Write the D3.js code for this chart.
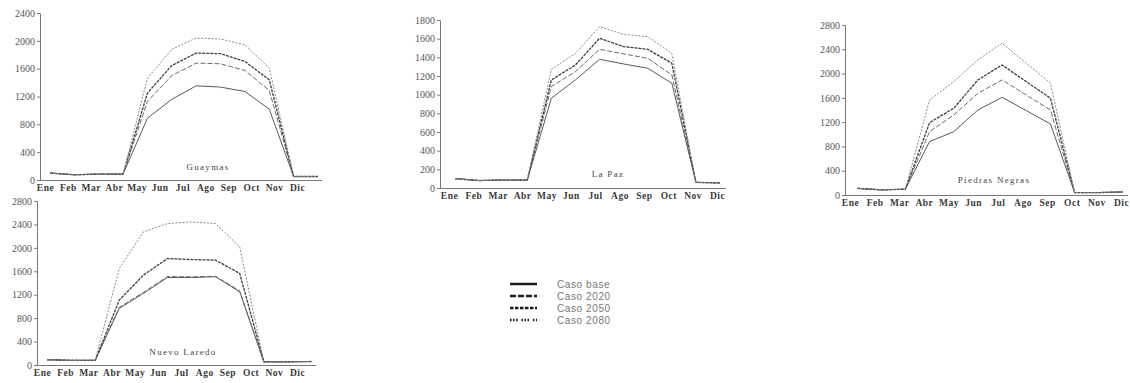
<!DOCTYPE html>
<html>
<head>
<meta charset="utf-8">
<script src="https://cdn.jsdelivr.net/npm/d3@7"></script>
<style>
  body { margin: 0; background: #fff; }
  svg { display: block; }
  .axis path, .axis line { stroke: #777; }
</style>
</head>
<body>
<div id="chart"></div>
<script>
var months = ['Ene', 'Feb', 'Mar', 'Abr', 'May', 'Jun', 'Jul', 'Ago', 'Sep', 'Oct', 'Nov', 'Dic'];
var cases = ['Caso base', 'Caso 2020', 'Caso 2050', 'Caso 2080'];

var guaymasBase = [100, 75, 85, 85, 888, 1160, 1354, 1335, 1272, 1018, 50, 50];
var guaymas2020 = [100, 75, 85, 85, 1130, 1500, 1680, 1670, 1575, 1287, 50, 50];
var guaymas2050 = [100, 75, 85, 85, 1250, 1645, 1824, 1815, 1704, 1440, 50, 50];
var guaymas2080 = [100, 75, 85, 85, 1464, 1878, 2040, 2026, 1944, 1608, 50, 50];

var laPazBase = [100, 80, 85, 85, 962, 1158, 1379, 1329, 1283, 1123, 60, 55];
var laPaz2020 = [100, 80, 85, 85, 1087, 1247, 1486, 1436, 1390, 1212, 60, 55];
var laPaz2050 = [100, 80, 85, 85, 1158, 1318, 1604, 1515, 1486, 1336, 60, 55];
var laPaz2080 = [100, 80, 85, 85, 1272, 1443, 1728, 1646, 1621, 1443, 60, 55];

var piedrasBase = [110, 85, 95, 879, 1043, 1400, 1609, 1390, 1170, 40, 40, 50];
var piedras2020 = [110, 85, 95, 1043, 1318, 1675, 1895, 1647, 1400, 40, 40, 50];
var piedras2050 = [110, 85, 95, 1192, 1428, 1895, 2142, 1867, 1593, 40, 40, 50];
var piedras2080 = [110, 85, 95, 1565, 1867, 2224, 2499, 2170, 1840, 40, 40, 50];

var laredoBase = [90, 80, 80, 966, 1222, 1494, 1494, 1506, 1250, 55, 55, 60];
var laredo2020 = [90, 80, 80, 985, 1240, 1510, 1505, 1515, 1265, 55, 55, 60];
var laredo2050 = [90, 80, 80, 1108, 1534, 1818, 1800, 1790, 1563, 55, 55, 60];
var laredo2080 = [90, 80, 80, 1648, 2273, 2415, 2443, 2415, 2017, 55, 55, 60];

var cities = ['Guaymas', 'La Paz', 'Piedras Negras', 'Nuevo Laredo'];
var yMax = [2400, 1800, 2800, 2800];
var yStep = [400, 200, 400, 400];
var cityData = [
  [guaymasBase, guaymas2020, guaymas2050, guaymas2080],
  [laPazBase, laPaz2020, laPaz2050, laPaz2080],
  [piedrasBase, piedras2020, piedras2050, piedras2080],
  [laredoBase, laredo2020, laredo2050, laredo2080]
];

// panel placement (pixels)
var panels = [
  { ax: 40,  top: 13,  bottom: 180, line: [50, 318],   lab: [45, 297],   end: 322,  tx: 208, ty: 170 },
  { ax: 440, top: 20,  bottom: 188, line: [455, 720],  lab: [449, 717],  end: 726,  tx: 608, ty: 177 },
  { ax: 845, top: 25,  bottom: 195, line: [857, 1123], lab: [850, 1121], end: 1128, tx: 994, ty: 183 },
  { ax: 37,  top: 201, bottom: 365, line: [47, 312],   lab: [42, 297],   end: 316,  tx: 183, ty: 355 }
];

var styles = [
  { stroke: '#5a5a5a', width: 1,   dash: null },
  { stroke: '#6a6a6a', width: 1,   dash: '5,2' },
  { stroke: '#3e3e3e', width: 1.3, dash: '3,1' },
  { stroke: '#8a8a8a', width: 1,   dash: '2,1.5' }
];
var legendDash = [null, '6,2', '3.5,1.5', '1.5,1.5,1.5,1.5,1.5,4'];

var serif = "'Liberation Serif', 'DejaVu Serif', serif";

var svg = d3.select('#chart').append('svg')
    .attr('width', 1130)
    .attr('height', 383);

panels.forEach(function (p, i) {

  var y = d3.scaleLinear()
      .domain([0, yMax[i]])
      .range([p.bottom, p.top]);

  var x = d3.scalePoint()
      .domain(months)
      .range(p.line);

  var xLab = d3.scalePoint()
      .domain(months)
      .range(p.lab);

  var g = svg.append('g');

  // y axis
  g.append('g')
      .attr('class', 'axis')
      .attr('transform', 'translate(' + p.ax + ',0)')
      .call(d3.axisLeft(y)
        .tickValues(d3.range(0, yMax[i] + 1, yStep[i]))
        .tickFormat(d3.format('d'))
        .tickSize(3)
        .tickSizeOuter(0)
        .tickPadding(2))
      .selectAll('text')
        .style('font-family', serif)
        .style('font-size', '10px')
        .style('fill', '#555');

  // x axis line
  g.append('line')
      .attr('x1', p.ax)
      .attr('x2', p.end)
      .attr('y1', y(0) + 0.5)
      .attr('y2', y(0) + 0.5)
      .attr('stroke', '#777');

  // month labels
  var xa = g.append('g')
      .attr('class', 'axis')
      .attr('transform', 'translate(0,' + (y(0) + 1) + ')')
      .call(d3.axisBottom(xLab).tickSize(0).tickPadding(3));
  xa.select('.domain').remove();
  xa.selectAll('text')
      .style('font-family', serif)
      .style('font-size', '9.5px')
      .style('letter-spacing', '0.5px')
      .style('font-weight', 'bold')
      .style('fill', '#3a3a3a');

  var line = d3.line()
      .x(function (d, j) { return x(months[j]); })
      .y(function (d) { return y(d); });

  g.selectAll('path.serie')
      .data(cityData[i])
      .enter()
    .append('path')
      .attr('class', 'serie')
      .attr('d', line)
      .attr('fill', 'none')
      .attr('stroke', function (d, k) { return styles[k].stroke; })
      .attr('stroke-width', function (d, k) { return styles[k].width; })
      .attr('stroke-dasharray', function (d, k) { return styles[k].dash; });

  g.append('text')
      .attr('x', p.tx)
      .attr('y', p.ty)
      .attr('text-anchor', 'middle')
      .style('font-family', serif)
      .style('font-size', '9px')
      .style('letter-spacing', '1.3px')
      .style('fill', '#444')
      .text(cities[i]);
});

// legend
var legend = svg.append('g')
    .attr('transform', 'translate(510,284)');

var item = legend.selectAll('g')
    .data(cases)
    .enter()
  .append('g')
    .attr('transform', function (d, i) { return 'translate(0,' + (i * 12) + ')'; });

item.append('line')
    .attr('x1', 0)
    .attr('x2', 27)
    .attr('stroke', '#1a1a1a')
    .attr('stroke-width', 2.5)
    .attr('stroke-dasharray', function (d, i) { return legendDash[i]; });

item.append('text')
    .attr('x', 47)
    .attr('y', 4)
    .style('font-family', "'Liberation Sans', sans-serif")
    .style('font-size', '10px')
    .style('letter-spacing', '0.6px')
    .style('fill', '#777')
    .text(function (d) { return d; });
</script>
</body>
</html>
